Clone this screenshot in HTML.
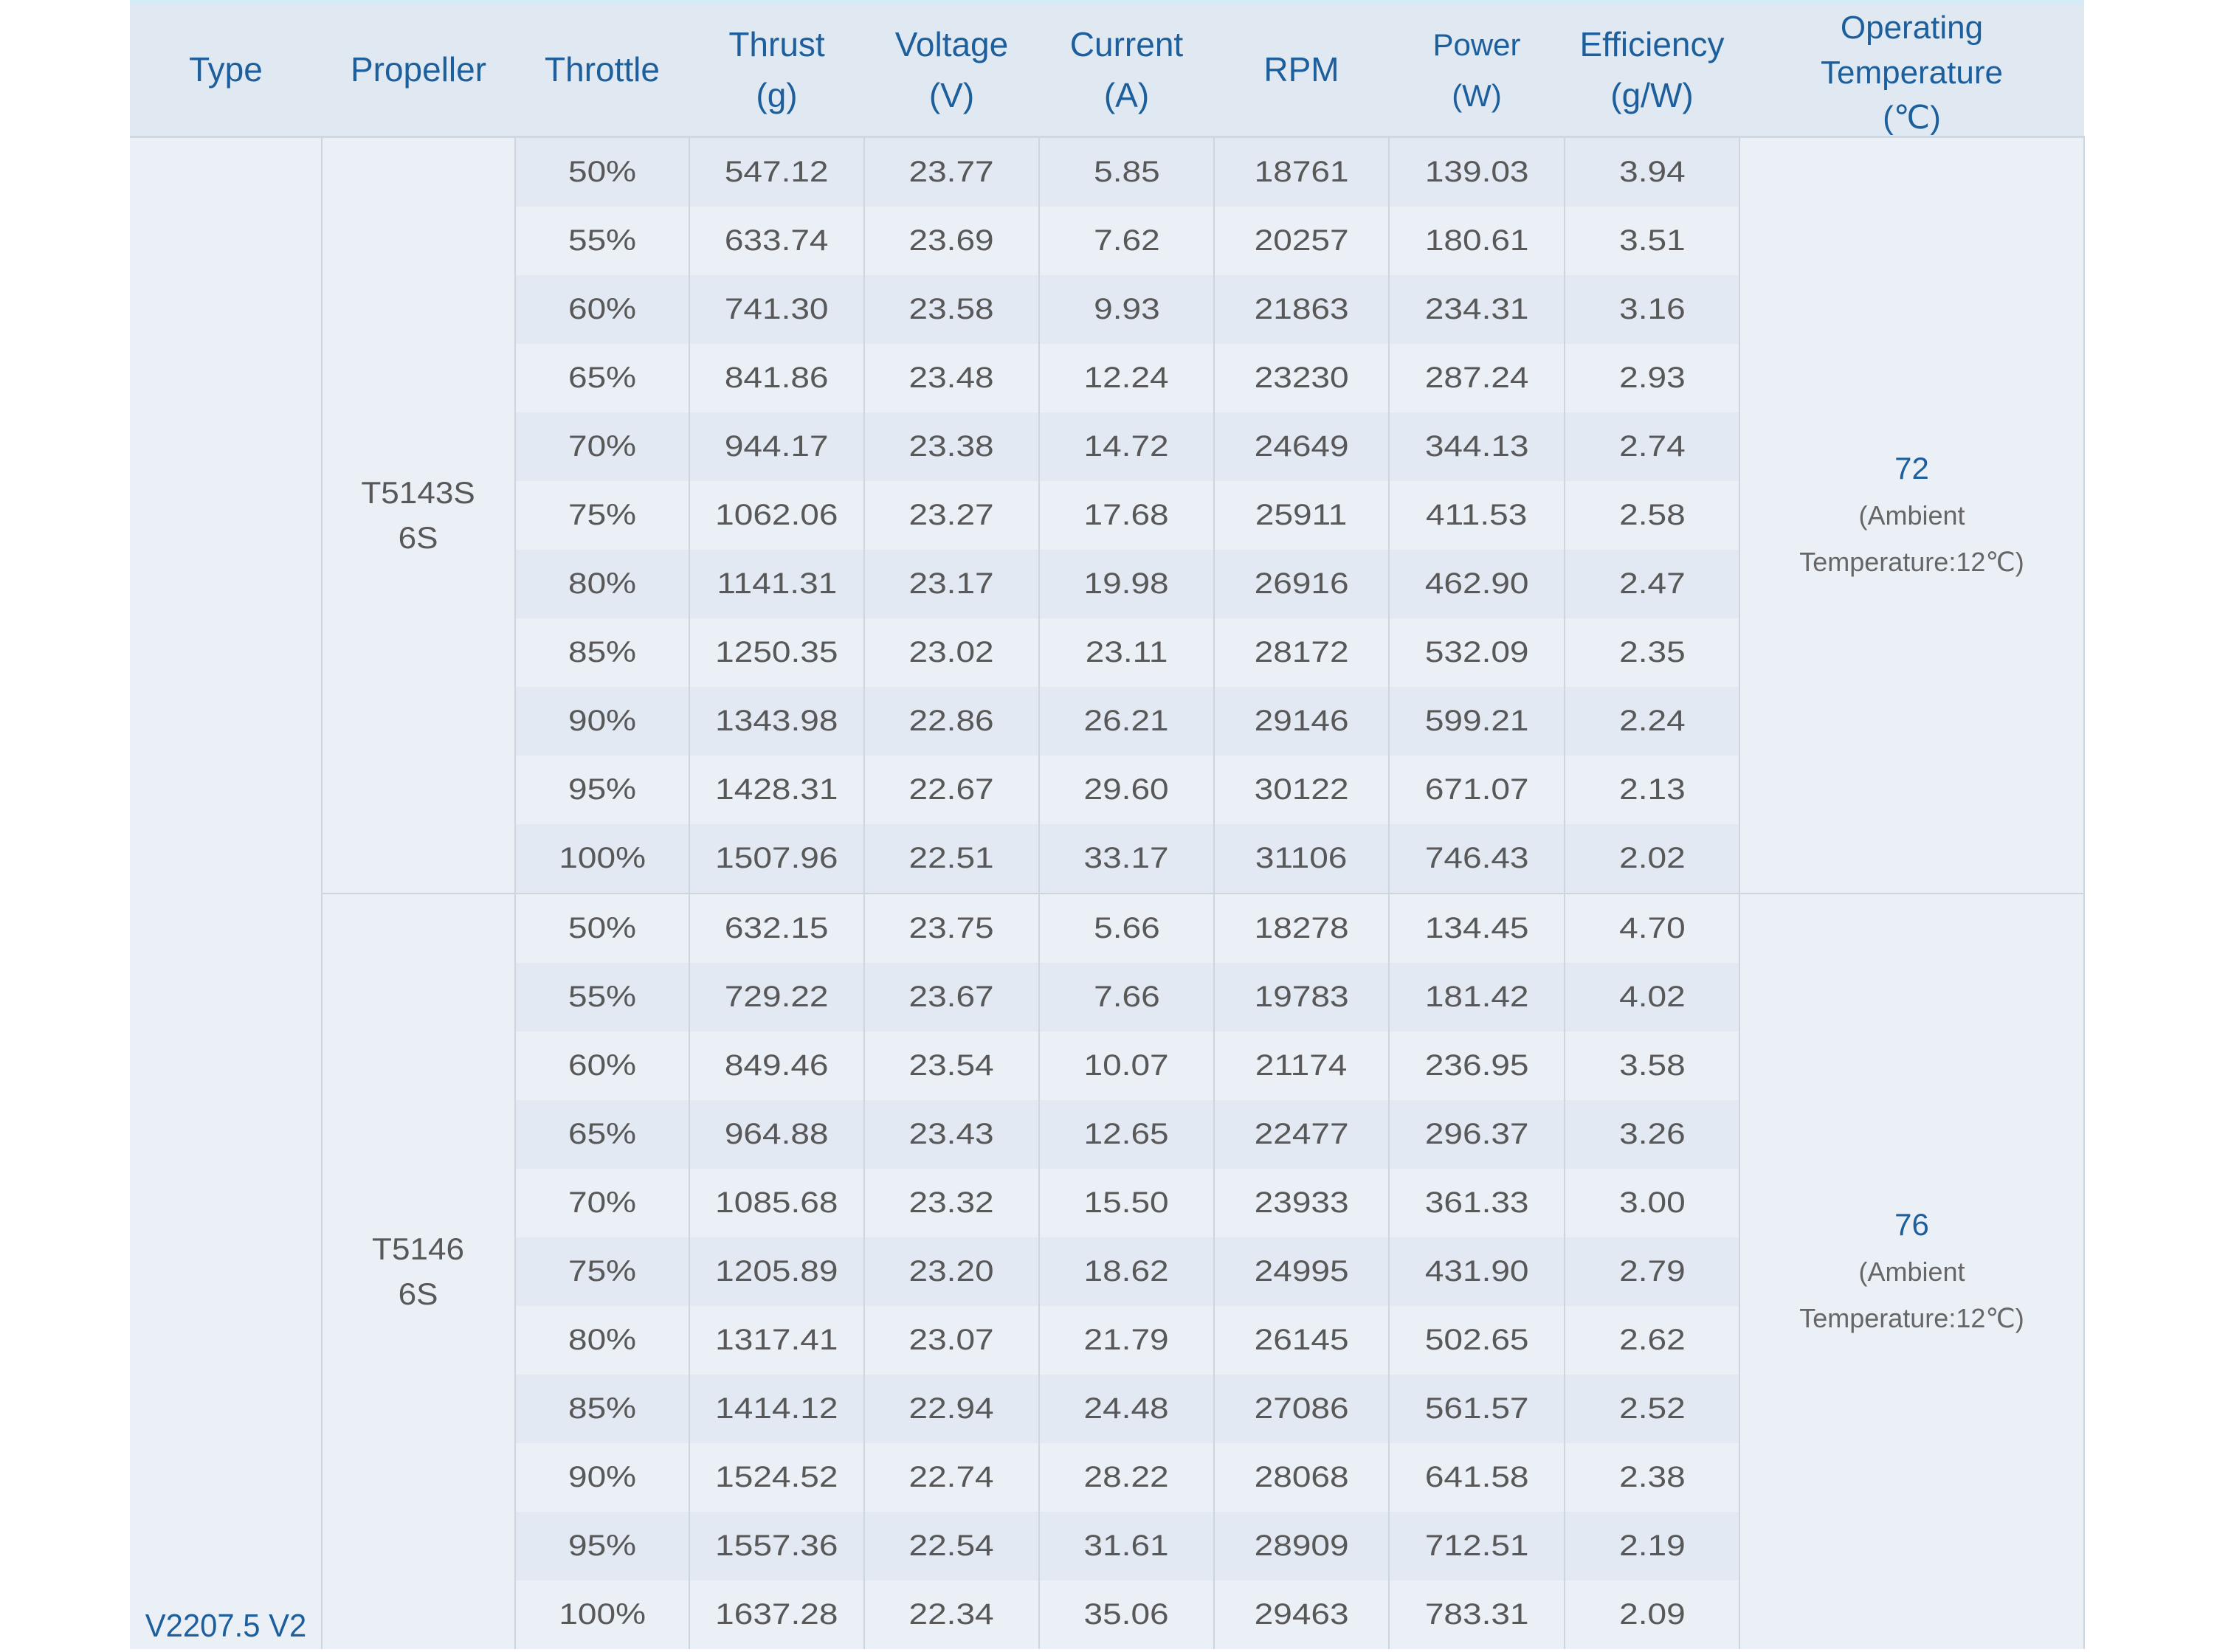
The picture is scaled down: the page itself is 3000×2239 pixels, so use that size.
<!DOCTYPE html>
<html><head><meta charset="utf-8"><style>
html,body{margin:0;padding:0;background:#fff;width:3000px;height:2239px;overflow:hidden}
table{position:absolute;left:176px;top:0;border-collapse:collapse;table-layout:fixed;width:2648px;font-family:"Liberation Sans","DejaVu Sans",sans-serif}
td,th{padding:0;text-align:center;vertical-align:middle;border-left:2px solid #cdd5dd;border-right:2px solid #cdd5dd;overflow:visible;white-space:nowrap}
th{height:182px;background:#e0e9f2;color:#1d5f9c;font-weight:normal;font-size:46px;line-height:69px;border-bottom:3px solid #cfd8e1;border-left:none;border-right:none;border-top:6px solid #d4ecf8;box-sizing:border-box}
td{height:93px;font-size:40px;color:#585858}
td span,th span{display:inline-block;transform:scaleX(1.15)}
th span{transform:scaleX(1.0)}
th span.op{height:160px;line-height:61px;vertical-align:middle;position:relative;top:-8px}
tr.d td.v{background:#e2e9f2}
tr.l td.v{background:#ebf0f7}
td.s{background:#ebf0f7}
tr.g td{border-top:2px solid #cdd5dd}
.t{line-height:62px}
.t b{font-weight:normal;color:#1d5f9c;font-size:42px}
.t i{font-style:normal;font-size:36px;color:#666}
.t span{transform:scaleX(1.0)}
.p{line-height:61px;font-size:42px}
.p span{transform:scaleX(1.05)}
.ty{vertical-align:bottom;color:#1d5f9c;font-size:44px;padding-bottom:6px;border-left:none}
.ty span{transform:scaleX(0.95)}
</style></head><body>
<table>
<colgroup><col style="width:260px"><col style="width:262px"><col style="width:236px"><col style="width:237px"><col style="width:237px"><col style="width:237px"><col style="width:237px"><col style="width:238px"><col style="width:237px"><col style="width:467px"></colgroup>
<tr><th><span>Type</span></th><th><span>Propeller</span></th><th><span>Throttle</span></th><th><span>Thrust<br>(g)</span></th><th><span>Voltage<br>(V)</span></th><th><span>Current<br>(A)</span></th><th><span>RPM</span></th><th style="font-size:42px"><span>Power<br>(W)</span></th><th><span>Efficiency<br>(g/W)</span></th><th style="font-size:44px"><span class="op">Operating<br>Temperature<br>(℃)</span></th></tr>
<tr class="d"><td class="s ty" rowspan="22"><span>V2207.5 V2</span></td><td class="s p" rowspan="11"><span>T5143S<br>6S</span></td><td class="v"><span>50%</span></td><td class="v"><span>547.12</span></td><td class="v"><span>23.77</span></td><td class="v"><span>5.85</span></td><td class="v"><span>18761</span></td><td class="v"><span>139.03</span></td><td class="v"><span>3.94</span></td><td class="s t" rowspan="11"><span><b>72</b><br><i>(Ambient<br>Temperature:12℃)</i></span></td></tr>
<tr class="l"><td class="v"><span>55%</span></td><td class="v"><span>633.74</span></td><td class="v"><span>23.69</span></td><td class="v"><span>7.62</span></td><td class="v"><span>20257</span></td><td class="v"><span>180.61</span></td><td class="v"><span>3.51</span></td></tr>
<tr class="d"><td class="v"><span>60%</span></td><td class="v"><span>741.30</span></td><td class="v"><span>23.58</span></td><td class="v"><span>9.93</span></td><td class="v"><span>21863</span></td><td class="v"><span>234.31</span></td><td class="v"><span>3.16</span></td></tr>
<tr class="l"><td class="v"><span>65%</span></td><td class="v"><span>841.86</span></td><td class="v"><span>23.48</span></td><td class="v"><span>12.24</span></td><td class="v"><span>23230</span></td><td class="v"><span>287.24</span></td><td class="v"><span>2.93</span></td></tr>
<tr class="d"><td class="v"><span>70%</span></td><td class="v"><span>944.17</span></td><td class="v"><span>23.38</span></td><td class="v"><span>14.72</span></td><td class="v"><span>24649</span></td><td class="v"><span>344.13</span></td><td class="v"><span>2.74</span></td></tr>
<tr class="l"><td class="v"><span>75%</span></td><td class="v"><span>1062.06</span></td><td class="v"><span>23.27</span></td><td class="v"><span>17.68</span></td><td class="v"><span>25911</span></td><td class="v"><span>411.53</span></td><td class="v"><span>2.58</span></td></tr>
<tr class="d"><td class="v"><span>80%</span></td><td class="v"><span>1141.31</span></td><td class="v"><span>23.17</span></td><td class="v"><span>19.98</span></td><td class="v"><span>26916</span></td><td class="v"><span>462.90</span></td><td class="v"><span>2.47</span></td></tr>
<tr class="l"><td class="v"><span>85%</span></td><td class="v"><span>1250.35</span></td><td class="v"><span>23.02</span></td><td class="v"><span>23.11</span></td><td class="v"><span>28172</span></td><td class="v"><span>532.09</span></td><td class="v"><span>2.35</span></td></tr>
<tr class="d"><td class="v"><span>90%</span></td><td class="v"><span>1343.98</span></td><td class="v"><span>22.86</span></td><td class="v"><span>26.21</span></td><td class="v"><span>29146</span></td><td class="v"><span>599.21</span></td><td class="v"><span>2.24</span></td></tr>
<tr class="l"><td class="v"><span>95%</span></td><td class="v"><span>1428.31</span></td><td class="v"><span>22.67</span></td><td class="v"><span>29.60</span></td><td class="v"><span>30122</span></td><td class="v"><span>671.07</span></td><td class="v"><span>2.13</span></td></tr>
<tr class="d"><td class="v"><span>100%</span></td><td class="v"><span>1507.96</span></td><td class="v"><span>22.51</span></td><td class="v"><span>33.17</span></td><td class="v"><span>31106</span></td><td class="v"><span>746.43</span></td><td class="v"><span>2.02</span></td></tr>
<tr class="l g"><td class="s p" rowspan="11"><span>T5146<br>6S</span></td><td class="v"><span>50%</span></td><td class="v"><span>632.15</span></td><td class="v"><span>23.75</span></td><td class="v"><span>5.66</span></td><td class="v"><span>18278</span></td><td class="v"><span>134.45</span></td><td class="v"><span>4.70</span></td><td class="s t" rowspan="11"><span><b>76</b><br><i>(Ambient<br>Temperature:12℃)</i></span></td></tr>
<tr class="d"><td class="v"><span>55%</span></td><td class="v"><span>729.22</span></td><td class="v"><span>23.67</span></td><td class="v"><span>7.66</span></td><td class="v"><span>19783</span></td><td class="v"><span>181.42</span></td><td class="v"><span>4.02</span></td></tr>
<tr class="l"><td class="v"><span>60%</span></td><td class="v"><span>849.46</span></td><td class="v"><span>23.54</span></td><td class="v"><span>10.07</span></td><td class="v"><span>21174</span></td><td class="v"><span>236.95</span></td><td class="v"><span>3.58</span></td></tr>
<tr class="d"><td class="v"><span>65%</span></td><td class="v"><span>964.88</span></td><td class="v"><span>23.43</span></td><td class="v"><span>12.65</span></td><td class="v"><span>22477</span></td><td class="v"><span>296.37</span></td><td class="v"><span>3.26</span></td></tr>
<tr class="l"><td class="v"><span>70%</span></td><td class="v"><span>1085.68</span></td><td class="v"><span>23.32</span></td><td class="v"><span>15.50</span></td><td class="v"><span>23933</span></td><td class="v"><span>361.33</span></td><td class="v"><span>3.00</span></td></tr>
<tr class="d"><td class="v"><span>75%</span></td><td class="v"><span>1205.89</span></td><td class="v"><span>23.20</span></td><td class="v"><span>18.62</span></td><td class="v"><span>24995</span></td><td class="v"><span>431.90</span></td><td class="v"><span>2.79</span></td></tr>
<tr class="l"><td class="v"><span>80%</span></td><td class="v"><span>1317.41</span></td><td class="v"><span>23.07</span></td><td class="v"><span>21.79</span></td><td class="v"><span>26145</span></td><td class="v"><span>502.65</span></td><td class="v"><span>2.62</span></td></tr>
<tr class="d"><td class="v"><span>85%</span></td><td class="v"><span>1414.12</span></td><td class="v"><span>22.94</span></td><td class="v"><span>24.48</span></td><td class="v"><span>27086</span></td><td class="v"><span>561.57</span></td><td class="v"><span>2.52</span></td></tr>
<tr class="l"><td class="v"><span>90%</span></td><td class="v"><span>1524.52</span></td><td class="v"><span>22.74</span></td><td class="v"><span>28.22</span></td><td class="v"><span>28068</span></td><td class="v"><span>641.58</span></td><td class="v"><span>2.38</span></td></tr>
<tr class="d"><td class="v"><span>95%</span></td><td class="v"><span>1557.36</span></td><td class="v"><span>22.54</span></td><td class="v"><span>31.61</span></td><td class="v"><span>28909</span></td><td class="v"><span>712.51</span></td><td class="v"><span>2.19</span></td></tr>
<tr class="l"><td class="v"><span>100%</span></td><td class="v"><span>1637.28</span></td><td class="v"><span>22.34</span></td><td class="v"><span>35.06</span></td><td class="v"><span>29463</span></td><td class="v"><span>783.31</span></td><td class="v"><span>2.09</span></td></tr>
</table>
</body></html>
